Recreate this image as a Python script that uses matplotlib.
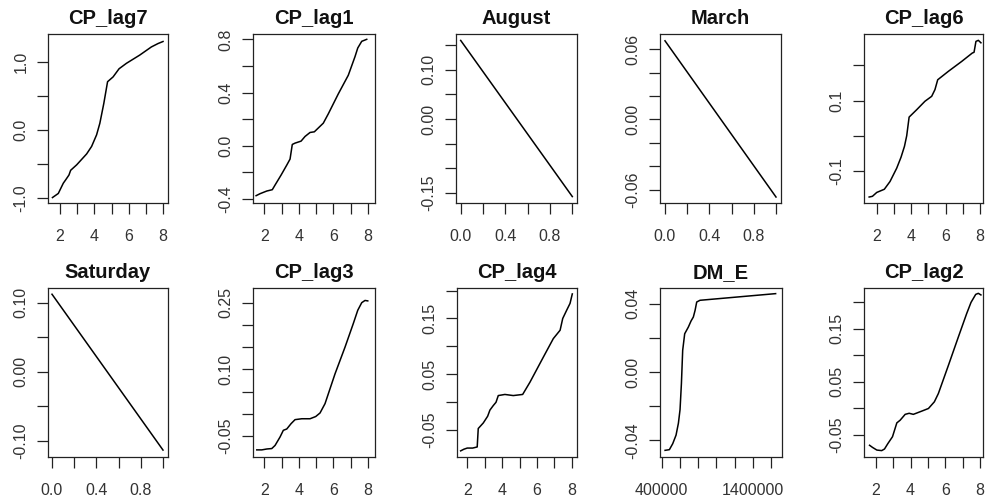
import matplotlib
matplotlib.use("Agg")
import matplotlib.pyplot as plt

plt.rcParams["font.family"] = ["Liberation Sans", "DejaVu Sans"]

# Partial dependence of the response on each predictor
cp_lag7_x = [1.56, 1.90, 2.19, 2.33, 2.52, 2.62, 2.97, 3.55, 3.84, 4.13, 4.32, 4.55, 4.77, 5.09, 5.44, 5.87, 6.64, 7.32, 7.71, 8.00]
cp_lag7_y = [-0.99, -0.93, -0.78, -0.73, -0.66, -0.59, -0.51, -0.35, -0.24, -0.07, 0.10, 0.39, 0.71, 0.78, 0.90, 0.98, 1.10, 1.22, 1.27, 1.30]

cp_lag1_x = [1.52, 1.75, 2.14, 2.46, 2.62, 2.97, 3.30, 3.49, 3.62, 3.78, 4.13, 4.36, 4.65, 4.90, 5.42, 5.71, 6.29, 6.87, 7.26, 7.42, 7.65, 7.94]
cp_lag1_y = [-0.375, -0.36, -0.34, -0.33, -0.295, -0.22, -0.145, -0.10, 0.01, 0.02, 0.035, 0.07, 0.10, 0.105, 0.17, 0.24, 0.39, 0.53, 0.67, 0.735, 0.785, 0.80]

august_x = [0.0, 1.0]
august_y = [0.159, -0.157]

march_x = [0.0, 1.0]
march_y = [0.0671, -0.0663]

cp_lag6_x = [1.56, 1.75, 2.00, 2.44, 2.77, 3.16, 3.41, 3.61, 3.74, 3.88, 4.32, 4.80, 5.19, 5.38, 5.54, 6.16, 6.93, 7.55, 7.65, 7.76, 7.90, 8.05]
cp_lag6_y = [-0.174, -0.172, -0.161, -0.152, -0.130, -0.092, -0.061, -0.030, 0.0, 0.053, 0.074, 0.098, 0.112, 0.131, 0.159, 0.183, 0.211, 0.235, 0.237, 0.268, 0.271, 0.264]

saturday_x = [0.0, 1.0]
saturday_y = [0.112, -0.113]

cp_lag3_x = [1.56, 1.85, 2.14, 2.43, 2.62, 2.91, 3.10, 3.30, 3.55, 3.78, 4.17, 4.65, 4.98, 5.23, 5.52, 6.10, 6.68, 7.16, 7.42, 7.65, 7.84, 8.00]
cp_lag3_y = [-0.081, -0.081, -0.079, -0.078, -0.071, -0.052, -0.037, -0.034, -0.022, -0.013, -0.011, -0.011, -0.006, 0.002, 0.023, 0.090, 0.150, 0.203, 0.233, 0.250, 0.255, 0.254]

cp_lag4_x = [1.62, 1.81, 2.00, 2.31, 2.57, 2.63, 2.92, 3.17, 3.30, 3.49, 3.65, 3.78, 4.16, 4.64, 5.18, 5.60, 6.37, 6.94, 7.33, 7.48, 7.71, 7.90, 8.03]
cp_lag4_y = [-0.087, -0.084, -0.082, -0.082, -0.080, -0.047, -0.037, -0.025, -0.014, -0.006, 0.0, 0.012, 0.014, 0.012, 0.014, 0.036, 0.081, 0.114, 0.129, 0.150, 0.165, 0.177, 0.194]

dm_e_x = [436600, 484000, 520600, 557000, 583000, 601000, 616000, 630000, 652000, 692000, 722000, 747000, 766000, 784000, 820000, 1650000]
dm_e_y = [-0.0459, -0.0455, -0.042, -0.037, -0.030, -0.022, -0.0068, 0.0127, 0.0224, 0.0263, 0.0299, 0.0322, 0.0361, 0.041, 0.042, 0.0459]

cp_lag2_x = [1.64, 1.81, 2.06, 2.34, 2.50, 2.69, 2.96, 3.21, 3.40, 3.69, 3.92, 4.16, 4.64, 5.03, 5.37, 5.60, 6.18, 6.75, 7.23, 7.48, 7.75, 7.90, 8.05]
cp_lag2_y = [-0.069, -0.073, -0.078, -0.079, -0.076, -0.066, -0.053, -0.027, -0.022, -0.011, -0.009, -0.011, -0.005, 0.0, 0.0125, 0.028, 0.081, 0.134, 0.178, 0.199, 0.214, 0.216, 0.213]

titles = ["CP_lag7", "CP_lag1", "August", "March", "CP_lag6",
          "Saturday", "CP_lag3", "CP_lag4", "DM_E", "CP_lag2"]
series_x = [cp_lag7_x, cp_lag1_x, august_x, march_x, cp_lag6_x,
            saturday_x, cp_lag3_x, cp_lag4_x, dm_e_x, cp_lag2_x]
series_y = [cp_lag7_y, cp_lag1_y, august_y, march_y, cp_lag6_y,
            saturday_y, cp_lag3_y, cp_lag4_y, dm_e_y, cp_lag2_y]

lag_ticks = [2, 3, 4, 5, 6, 7, 8]
lag_labels = ["2", "", "4", "", "6", "", "8"]
unit_ticks = [0.0, 0.2, 0.4, 0.6, 0.8, 1.0]
unit_labels = ["0.0", "", "0.4", "", "0.8", ""]
dm_ticks = [400000, 600000, 800000, 1000000, 1200000, 1400000, 1600000]
dm_labels = ["400000", "", "", "", "", "1400000", ""]

x_ticks = [lag_ticks, lag_ticks, unit_ticks, unit_ticks, lag_ticks,
           unit_ticks, lag_ticks, lag_ticks, dm_ticks, lag_ticks]
x_labels = [lag_labels, lag_labels, unit_labels, unit_labels, lag_labels,
            unit_labels, lag_labels, lag_labels, dm_labels, lag_labels]

y_ticks = [
    [-1.0, -0.5, 0.0, 0.5, 1.0],
    [-0.4, -0.2, 0.0, 0.2, 0.4, 0.6, 0.8],
    [-0.15, -0.10, -0.05, 0.0, 0.05, 0.10, 0.15],
    [-0.06, -0.04, -0.02, 0.0, 0.02, 0.04, 0.06],
    [-0.1, 0.0, 0.1, 0.2],
    [-0.10, -0.05, 0.0, 0.05, 0.10],
    [-0.05, 0.0, 0.05, 0.10, 0.15, 0.20, 0.25],
    [-0.05, 0.0, 0.05, 0.10, 0.15, 0.20],
    [-0.04, -0.02, 0.0, 0.02, 0.04],
    [-0.05, 0.0, 0.05, 0.10, 0.15, 0.20],
]
y_labels = [
    ["-1.0", "", "0.0", "", "1.0"],
    ["-0.4", "", "0.0", "", "0.4", "", "0.8"],
    ["-0.15", "", "", "0.00", "", "0.10", ""],
    ["-0.06", "", "", "0.00", "", "", "0.06"],
    ["-0.1", "", "0.1", ""],
    ["-0.10", "", "0.00", "", "0.10"],
    ["-0.05", "", "", "0.10", "", "", "0.25"],
    ["-0.05", "", "0.05", "", "0.15", ""],
    ["-0.04", "", "0.00", "", "0.04"],
    ["-0.05", "", "0.05", "", "0.15", ""],
]

# Panel frames in pixels: (left, right, top, bottom)
W, H = 985, 499
frames = [
    (48, 168, 34, 203), (253, 375, 34, 203), (456, 577, 34, 203),
    (660, 781, 34, 203), (864, 983, 34, 203),
    (48, 168, 288, 457), (253, 375, 288, 457), (457, 577, 288, 457),
    (660, 782, 288, 457), (864, 983, 288, 457),
]
x_limits = [(1.30, 8.29), (1.34, 8.42), (-0.042, 1.042), (-0.045, 1.045), (1.26, 8.17),
            (-0.036, 1.045), (1.34, 8.42), (1.41, 8.30), (381000, 1720000), (1.32, 8.17)]
y_limits = [(-1.07, 1.41), (-0.43, 0.84), (-0.170, 0.172), (-0.0714, 0.0729), (-0.191, 0.289),
            (-0.123, 0.121), (-0.097, 0.283), (-0.098, 0.2046), (-0.0498, 0.0492), (-0.091, 0.226)]

fig = plt.figure(figsize=(W / 100, H / 100), dpi=100)
fig.patch.set_facecolor("white")

for i in range(10):
    l, r, t, b = frames[i]
    ax = fig.add_axes([l / W, 1 - b / H, (r - l) / W, (b - t) / H])
    ax.plot(series_x[i], series_y[i], color="black", linewidth=1.1)
    ax.set_xlim(*x_limits[i])
    ax.set_ylim(*y_limits[i])
    ax.set_xticks(x_ticks[i])
    ax.set_xticklabels(x_labels[i])
    ax.set_yticks(y_ticks[i])
    ax.set_yticklabels(y_labels[i], rotation=90, va="center")
    ax.tick_params(axis="both", direction="out", length=8, width=0.9,
                   colors="#222222", labelsize=11.5, labelcolor="#333333")
    ax.tick_params(axis="x", pad=11)
    ax.tick_params(axis="y", pad=6)
    for sp in ax.spines.values():
        sp.set_linewidth(0.9)
        sp.set_color("#222222")
    ax.set_title(titles[i], fontsize=14.5, fontweight="bold", pad=7, color="#111111")

fig.savefig("out.png", dpi=100)
